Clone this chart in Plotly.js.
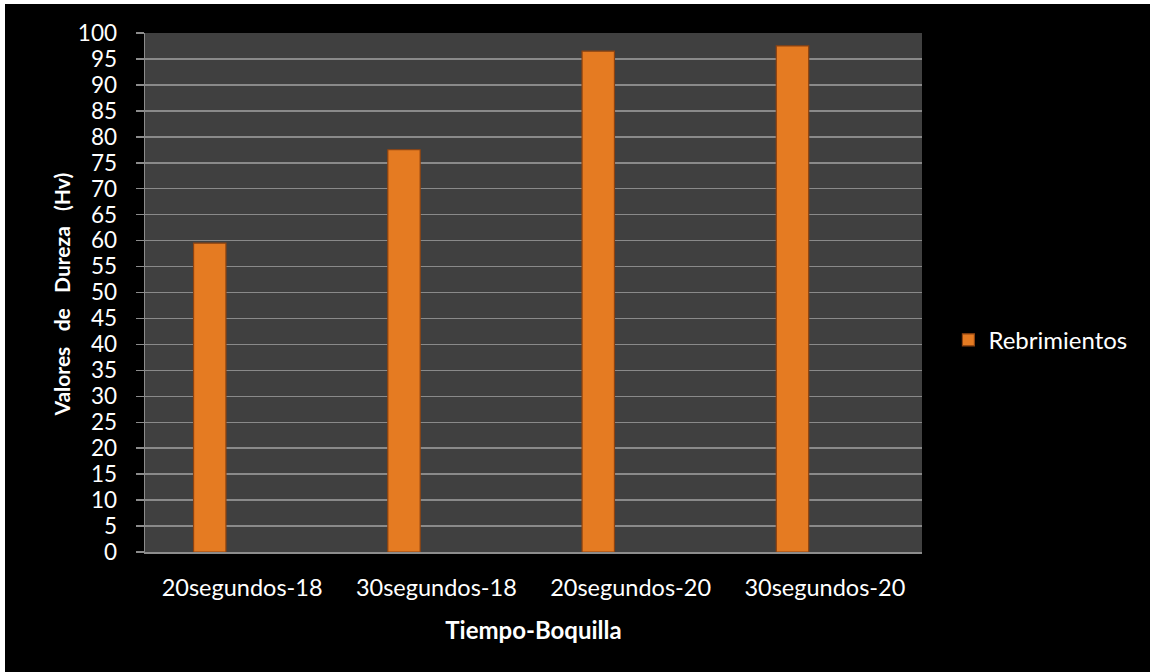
<!DOCTYPE html>
<html>
<head>
<meta charset="utf-8">
<script src="https://cdn.plot.ly/plotly-3.0.1.min.js"></script>
<style>
  html, body { margin: 0; padding: 0; background: #ffffff; width: 1150px; height: 672px; overflow: hidden; }
  #chart { position: absolute; left: 5px; top: 4px; width: 1145px; height: 668px; background: #000000; }
</style>
</head>
<body>
<div id="chart"></div>
<script>
const categories = ['20segundos-18', '30segundos-18', '20segundos-20', '30segundos-20'];
const rebrimientos = [59.5, 77.5, 96.5, 97.5];
const seriesName = 'Rebrimientos';
const yTickValues = [0,5,10,15,20,25,30,35,40,45,50,55,60,65,70,75,80,85,90,95,100];
const xTitle = 'Tiempo-Boquilla';
const yTitle = 'Valores&nbsp;&nbsp;&nbsp;de&nbsp;&nbsp;&nbsp;Dureza&nbsp;&nbsp;&nbsp;(Hv)';

const font = 'Lato, "Open Sans", sans-serif';

const trace = {
  type: 'bar',
  x: categories,
  y: rebrimientos,
  name: seriesName,
  width: 1/6,
  offset: -0.25,
  marker: { color: '#E57B22', line: { color: '#8E4310', width: 1.2 } },
  showlegend: true,
  hoverinfo: 'x+y'
};

const layout = {
  width: 1145, height: 668,
  paper_bgcolor: '#000000',
  plot_bgcolor: '#404040',
  margin: { l: 140, r: 228, t: 29, b: 120 },
  font: { family: font, color: '#ffffff', size: 20 },
  showlegend: true,
  legend: {
    x: 1.034, xanchor: 'left', y: 0.408, yanchor: 'middle',
    font: { family: font, size: 24, color: '#ffffff' },
    itemwidth: 30,
    bgcolor: 'rgba(0,0,0,0)'
  },
  xaxis: {
    type: 'category',
    showgrid: false,
    showline: true, linecolor: '#8c8c8c', linewidth: 1.5,
    ticks: '', ticklabelstandoff: 14,
    tickfont: { family: font, size: 23.5, color: '#ffffff' },
    title: { text: '<b>' + xTitle + '</b>', font: { family: font, size: 24, color: '#ffffff' }, standoff: 22 },
    zeroline: false
  },
  yaxis: {
    range: [0, 100],
    tickvals: yTickValues,
    ticktext: yTickValues.map(String),
    showgrid: true, gridcolor: '#8a8a8a', gridwidth: 1.5,
    showline: true, linecolor: '#8c8c8c', linewidth: 1.5,
    ticks: 'outside', ticklen: 8, tickcolor: '#8c8c8c', tickwidth: 1.5,
    ticklabelstandoff: 14,
    tickfont: { family: font, size: 22.5, color: '#ffffff' },
    zeroline: false
  },
  annotations: [{
    text: '<b>' + yTitle + '</b>',
    xref: 'paper', yref: 'paper', x: 0, y: 0.496,
    xanchor: 'center', yanchor: 'middle', xshift: -83,
    textangle: -90, showarrow: false,
    font: { family: font, size: 21, color: '#ffffff' }
  }],
  bargap: 0
};

Plotly.newPlot('chart', [trace], layout, { displayModeBar: false, staticPlot: true });
</script>
</body>
</html>
